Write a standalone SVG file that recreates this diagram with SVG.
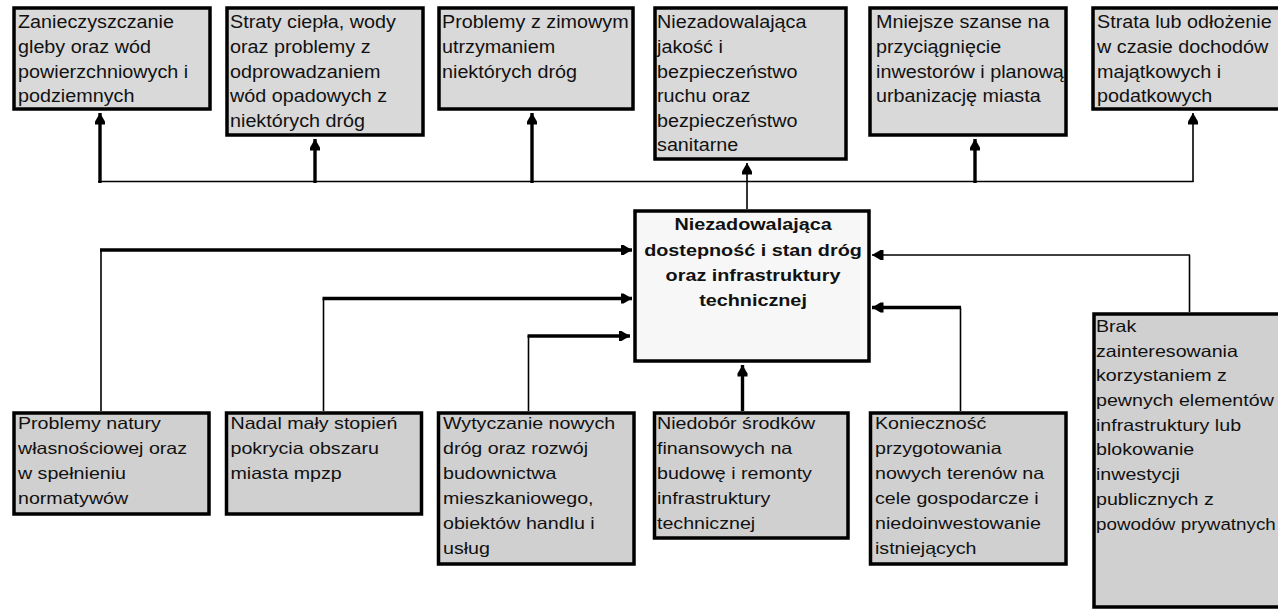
<svg xmlns="http://www.w3.org/2000/svg" width="1278" height="611" viewBox="0 0 1278 611">
<style>
.box{stroke:#000;stroke-width:3.5}
.top{fill:#d9d9d9}
.bot{fill:#d0d0d0}
.ctr{fill:#f7f7f7}
text{font-family:"Liberation Sans",Arial,sans-serif;fill:#111}
.t{font-size:17.5px}
.b{font-size:16.5px}
.c{font-size:17px;font-weight:bold;text-anchor:middle}
.thin{stroke:#000;stroke-width:1.6;fill:none}
.thick{stroke:#000;stroke-width:3.4;fill:none}
</style>
<defs>
<marker id="ah" markerUnits="userSpaceOnUse" markerWidth="12" markerHeight="12" viewBox="0 0 12 12" refX="11.5" refY="6" orient="auto">
<path d="M0,1 H3 L11.5,6 L3,11 H0 Z" fill="#000"/>
</marker>
</defs>
<rect width="1278" height="611" fill="#fff"/>

<g id="connectors">
<path class="thin" d="M98,181.5 H1193.5"/>
<path class="thick" d="M100,183 V113" marker-end="url(#ah)"/>
<path class="thick" d="M315,183 V139" marker-end="url(#ah)"/>
<path class="thick" d="M532,183 V113" marker-end="url(#ah)"/>
<path class="thin" d="M747,209 V163" marker-end="url(#ah)"/>
<path class="thick" d="M975,183 V139" marker-end="url(#ah)"/>
<path class="thin" d="M1193,182 V113" marker-end="url(#ah)"/>
<path class="thin" d="M101,411 V250"/>
<path class="thick" d="M100,250 H632" marker-end="url(#ah)"/>
<path class="thin" d="M323.5,411 V298.5"/>
<path class="thick" d="M322.5,298.5 H632" marker-end="url(#ah)"/>
<path class="thin" d="M528.5,411 V336"/>
<path class="thick" d="M527.5,336 H630" marker-end="url(#ah)"/>
<path class="thin" d="M1189.5,312 V255"/>
<path class="thin" d="M1190,255 H872" marker-end="url(#ah)"/>
<path class="thin" d="M960.5,411 V307.5"/>
<path class="thick" d="M961,307.5 H872" marker-end="url(#ah)"/>
<path class="thick" d="M742.5,411 V365" marker-end="url(#ah)"/>
</g>

<g id="effect1">
<rect class="box top" x="14" y="8" width="196" height="101"/>
<g transform="translate(18,0) scale(1.13,1)"><text class="t"><tspan x="0" y="28.5">Zanieczyszczanie</tspan><tspan x="0" y="53.1">gleby oraz wód</tspan><tspan x="0" y="77.7">powierzchniowych i</tspan><tspan x="0" y="102.3">podziemnych</tspan></text></g>
</g>
<g id="effect2">
<rect class="box top" x="227" y="8" width="196" height="127"/>
<g transform="translate(230,0) scale(1.13,1)"><text class="t"><tspan x="0" y="28.5">Straty ciepła, wody</tspan><tspan x="0" y="53.1">oraz problemy z</tspan><tspan x="0" y="77.7">odprowadzaniem</tspan><tspan x="0" y="102.3">wód opadowych z</tspan><tspan x="0" y="126.9">niektórych dróg</tspan></text></g>
</g>
<g id="effect3">
<rect class="box top" x="439" y="8" width="194" height="101"/>
<g transform="translate(442,0) scale(1.13,1)"><text class="t"><tspan x="0" y="28.5">Problemy z zimowym</tspan><tspan x="0" y="53.1">utrzymaniem</tspan><tspan x="0" y="77.7">niektórych dróg</tspan></text></g>
</g>
<g id="effect4">
<rect class="box top" x="655" y="8" width="191" height="151"/>
<g transform="translate(657,0) scale(1.13,1)"><text class="t"><tspan x="0" y="28.5">Niezadowalająca</tspan><tspan x="0" y="53.1">jakość i</tspan><tspan x="0" y="77.7">bezpieczeństwo</tspan><tspan x="0" y="102.3">ruchu oraz</tspan><tspan x="0" y="126.9">bezpieczeństwo</tspan><tspan x="0" y="151.5">sanitarne</tspan></text></g>
</g>
<g id="effect5">
<rect class="box top" x="870" y="8" width="196" height="127"/>
<g transform="translate(876,0) scale(1.13,1)"><text class="t"><tspan x="0" y="28.5">Mniejsze szanse na</tspan><tspan x="0" y="53.1">przyciągnięcie</tspan><tspan x="0" y="77.7">inwestorów i planową</tspan><tspan x="0" y="102.3">urbanizację miasta</tspan></text></g>
</g>
<g id="effect6">
<rect class="box top" x="1093" y="8" width="200" height="101"/>
<g transform="translate(1097,0) scale(1.13,1)"><text class="t"><tspan x="0" y="28.5">Strata lub odłożenie</tspan><tspan x="0" y="53.1">w czasie dochodów</tspan><tspan x="0" y="77.7">majątkowych i</tspan><tspan x="0" y="102.3">podatkowych</tspan></text></g>
</g>

<g id="core">
<rect class="box ctr" x="635" y="211" width="234" height="150"/>
<g transform="translate(753,0) scale(1.165,1)"><text class="c"><tspan x="0" y="230.5">Niezadowalająca</tspan><tspan x="0" y="255.8">dostepność i stan dróg</tspan><tspan x="0" y="281.1">oraz infrastruktury</tspan><tspan x="0" y="306.4">technicznej</tspan></text></g>
</g>

<g id="cause1">
<rect class="box bot" x="14" y="413" width="195" height="101"/>
<g transform="translate(18,0) scale(1.19,1)"><text class="b"><tspan x="0" y="429.3">Problemy natury</tspan><tspan x="0" y="454.3">własnościowej oraz</tspan><tspan x="0" y="479.3">w spełnieniu</tspan><tspan x="0" y="504.3">normatywów</tspan></text></g>
</g>
<g id="cause2">
<rect class="box bot" x="226.5" y="413" width="195" height="101"/>
<g transform="translate(230.5,0) scale(1.19,1)"><text class="b"><tspan x="0" y="429.3">Nadal mały stopień</tspan><tspan x="0" y="454.3">pokrycia obszaru</tspan><tspan x="0" y="479.3">miasta mpzp</tspan></text></g>
</g>
<g id="cause3">
<rect class="box bot" x="438.5" y="413" width="195.5" height="151"/>
<g transform="translate(443,0) scale(1.19,1)"><text class="b"><tspan x="0" y="429.3">Wytyczanie nowych</tspan><tspan x="0" y="454.3">dróg oraz rozwój</tspan><tspan x="0" y="479.3">budownictwa</tspan><tspan x="0" y="504.3">mieszkaniowego,</tspan><tspan x="0" y="529.3">obiektów handlu i</tspan><tspan x="0" y="554.3">usług</tspan></text></g>
</g>
<g id="cause4">
<rect class="box bot" x="654.5" y="413" width="193.5" height="125"/>
<g transform="translate(657,0) scale(1.19,1)"><text class="b"><tspan x="0" y="429.3">Niedobór środków</tspan><tspan x="0" y="454.3">finansowych na</tspan><tspan x="0" y="479.3">budowę i remonty</tspan><tspan x="0" y="504.3">infrastruktury</tspan><tspan x="0" y="529.3">technicznej</tspan></text></g>
</g>
<g id="cause5">
<rect class="box bot" x="870.5" y="413" width="195.5" height="151"/>
<g transform="translate(875,0) scale(1.19,1)"><text class="b"><tspan x="0" y="429.3">Konieczność</tspan><tspan x="0" y="454.3">przygotowania</tspan><tspan x="0" y="479.3">nowych terenów na</tspan><tspan x="0" y="504.3">cele gospodarcze i</tspan><tspan x="0" y="529.3">niedoinwestowanie</tspan><tspan x="0" y="554.3">istniejących</tspan></text></g>
</g>
<g id="cause6">
<rect class="box bot" x="1094" y="314" width="200" height="293"/>
<g transform="translate(1096,0) scale(1.19,1)"><text class="b"><tspan x="0" y="332">Brak</tspan><tspan x="0" y="356.7">zainteresowania</tspan><tspan x="0" y="381.4">korzystaniem z</tspan><tspan x="0" y="406.1">pewnych elementów</tspan><tspan x="0" y="430.8">infrastruktury lub</tspan><tspan x="0" y="455.5">blokowanie</tspan><tspan x="0" y="480.2">inwestycji</tspan><tspan x="0" y="504.9">publicznych z</tspan></text></g>
<g transform="translate(1096,0) scale(1.14,1)"><text class="b"><tspan x="0" y="529.6">powodów prywatnych</tspan></text></g>
</g>
</svg>
